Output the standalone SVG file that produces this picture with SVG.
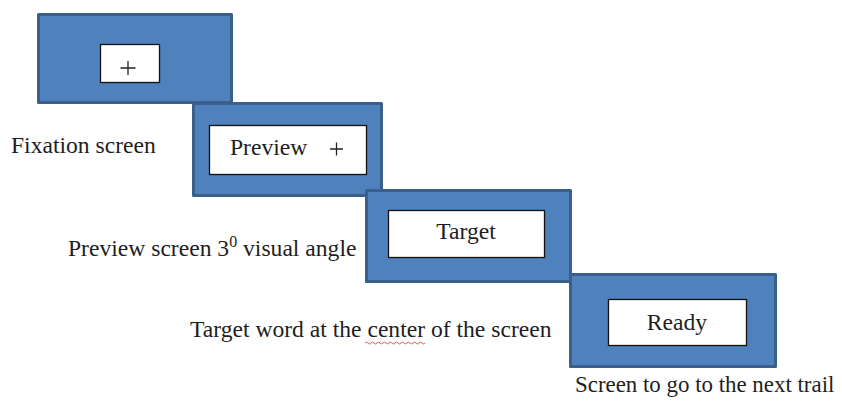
<svg xmlns="http://www.w3.org/2000/svg" width="842" height="403" viewBox="0 0 842 403">
<style>
.scr{fill:#4F81BD;stroke:#3A5F8B;stroke-width:3;stroke-linejoin:round}
.win{fill:#FFFFFF;stroke:#111111;stroke-width:1.3}
.t{font-family:"Liberation Serif","Times New Roman",serif;font-size:23.6px;fill:#1e1e1e}
.c{text-anchor:middle}
.plus{stroke:#222;stroke-width:1.3}
</style>
<rect width="842" height="403" fill="#FFFFFF"/>
<g id="fixation">
<rect class="scr" x="38.5" y="14.5" width="193" height="88"/>
<rect class="win" x="100.5" y="44.5" width="59" height="38"/>
<path class="plus" d="M120.5 68H135.5M128 61V75"/>
</g>
<g id="preview">
<rect class="scr" x="193.5" y="103.5" width="188" height="92"/>
<rect class="win" x="209.5" y="125.5" width="157" height="49"/>
<text class="t" x="230" y="155">Preview</text>
<path class="plus" d="M330 149H343M336.5 142.5V155.5"/>
</g>
<g id="target">
<rect class="scr" x="366.5" y="190.5" width="204" height="91"/>
<rect class="win" x="388.5" y="210.5" width="156" height="47"/>
<text class="t c" x="466" y="239">Target</text>
</g>
<g id="ready">
<rect class="scr" x="570.5" y="274.5" width="205" height="92"/>
<rect class="win" x="608.5" y="299.5" width="138" height="46"/>
<text class="t c" x="677" y="330">Ready</text>
</g>
<g id="labels">
<text class="t" x="11" y="153">Fixation screen</text>
<text class="t" x="68" y="256">Preview screen 3<tspan font-size="16" dy="-9">0</tspan><tspan dy="9"> visual angle</tspan></text>
<text class="t" x="190" y="337">Target word at the center of the screen</text>
<path d="M365 343q1.5 -2 3 0t3 0t3 0t3 0t3 0t3 0t3 0t3 0t3 0t3 0t3 0t3 0t3 0t3 0t3 0t3 0t3 0t3 0t3 0t3 0" fill="none" stroke="#d03030" stroke-width="0.8"/>
<text class="t" x="575" y="392" style="font-size:22.9px">Screen to go to the next trail</text>
</g>
<g id="connectors"></g>
</svg>
